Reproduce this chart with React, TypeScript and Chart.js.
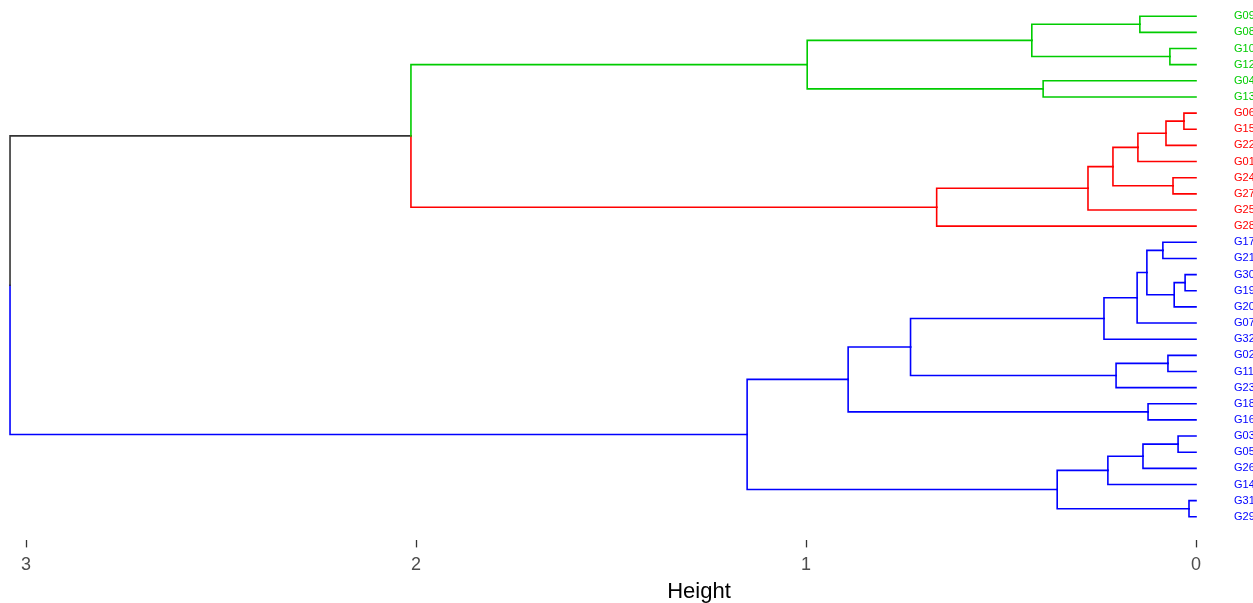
import React, { useEffect, useRef } from "react";
import { Chart, registerables } from "chart.js";

Chart.register(...registerables);

// Leaf labels in dendrogram order (top to bottom)
const leafLabels = [
  "G09", "G08", "G10", "G12", "G04", "G13",
  "G06", "G15", "G22", "G01", "G24", "G27", "G25", "G28",
  "G17", "G21", "G30", "G19", "G20", "G07", "G32", "G02", "G11", "G23",
  "G18", "G16", "G03", "G05", "G26", "G14", "G31", "G29",
];

// Cluster membership of each leaf (0 = green, 1 = red, 2 = blue)
const leafCluster = [
  0, 0, 0, 0, 0, 0,
  1, 1, 1, 1, 1, 1, 1, 1,
  2, 2, 2, 2, 2, 2, 2, 2, 2, 2, 2, 2, 2, 2, 2, 2, 2, 2,
];

const clusterColors = ["#00CC00", "#FF0000", "#0000FF"];
const mixedColor = "#333333";

// hclust-style merges: negative = leaf (1-based), positive = earlier merge (1-based)
const mergeLeft = [-31, -17, -7, -27, 2, -11, -3, -22, 3, -15, -25, 10, 4, -1, 9, 12, 8, 15, 13, 16, 18, 19, -5, 14, 21, 20, 26, 24, 27, 28, 30];
const mergeRight = [-32, -18, -8, -28, -19, -12, -4, -23, -9, -16, -26, 5, -29, -2, -10, -20, -24, 6, -30, -21, -13, 1, -6, 7, -14, 17, 11, 23, 22, 25, 29];
const mergeHeight = [0.018, 0.028, 0.031, 0.046, 0.056, 0.059, 0.067, 0.072, 0.077, 0.085, 0.123, 0.126, 0.136, 0.144, 0.149, 0.151, 0.205, 0.213, 0.226, 0.236, 0.277, 0.356, 0.392, 0.421, 0.665, 0.732, 0.892, 0.997, 1.151, 2.013, 3.041];

const xTicks = [0, 1, 2, 3];
const xTitle = "Height";

type NodeInfo = { pos: number; h: number; color: string };

function nodeInfo(id: number, cache: Map<number, NodeInfo>): NodeInfo {
  if (cache.has(id)) return cache.get(id)!;
  let info: NodeInfo;
  if (id < 0) {
    const i = -id - 1;
    info = { pos: i, h: 0, color: clusterColors[leafCluster[i]] };
  } else {
    const l = nodeInfo(mergeLeft[id - 1], cache);
    const r = nodeInfo(mergeRight[id - 1], cache);
    info = {
      pos: (l.pos + r.pos) / 2,
      h: mergeHeight[id - 1],
      color: l.color === r.color ? l.color : mixedColor,
    };
  }
  cache.set(id, info);
  return info;
}

function buildDatasets() {
  const cache = new Map<number, NodeInfo>();
  const ds: any[] = [];
  for (let m = 1; m <= mergeHeight.length; m++) {
    const p = nodeInfo(m, cache);
    for (const c of [mergeLeft[m - 1], mergeRight[m - 1]]) {
      const ci = nodeInfo(c, cache);
      ds.push({
        data: [
          { x: p.h, y: p.pos },
          { x: p.h, y: ci.pos },
          { x: ci.h, y: ci.pos },
        ],
        showLine: true,
        borderColor: ci.color,
        borderWidth: 1.6,
        pointRadius: 0,
        pointHoverRadius: 0,
        fill: false,
        tension: 0,
        borderCapStyle: "square",
        borderJoinStyle: "miter",
      });
    }
  }
  return ds;
}

const titlePlugin = {
  id: "xTitle",
  afterDraw(chart: any) {
    const ctx = chart.ctx;
    ctx.save();
    ctx.font = '22px "Liberation Sans", Arial, sans-serif';
    ctx.fillStyle = "#000000";
    ctx.textAlign = "center";
    ctx.textBaseline = "alphabetic";
    ctx.fillText(xTitle, 699, 598);
    ctx.restore();
  },
};

export default function App() {
  const ref = useRef<HTMLCanvasElement | null>(null);
  useEffect(() => {
    if (!ref.current) return;
    Chart.defaults.font.family = '"Liberation Sans", Arial, sans-serif';
    const chart = new Chart(ref.current, {
      type: "scatter",
      data: { datasets: buildDatasets() },
      options: {
        animation: false,
        responsive: true,
        maintainAspectRatio: false,
        layout: { padding: { top: 0, left: 0, right: 0, bottom: 20 } },
        plugins: { legend: { display: false }, tooltip: { enabled: false } },
        events: [],
        scales: {
          x: {
            type: "linear",
            reverse: true,
            min: -0.0897,
            max: 3.0667,
            afterBuildTicks: (s: any) => {
              s.ticks = xTicks.map((v) => ({ value: v }));
            },
            ticks: {
              color: "#4D4D4D",
              font: { size: 18 },
              padding: 7,
              autoSkip: false,
              maxRotation: 0,
              callback: (v: any) => String(v),
            },
            grid: {
              drawOnChartArea: false,
              drawTicks: true,
              tickLength: 7,
              tickColor: "#333333",
              tickWidth: 1.3,
            },
            border: { display: false },
          },
          y: {
            type: "linear",
            position: "right",
            reverse: true,
            min: -0.4076,
            max: 32.46,
            afterBuildTicks: (s: any) => {
              s.ticks = leafLabels.map((_, i) => ({ value: i }));
            },
            afterFit: (s: any) => {
              s.width = 22;
            },
            ticks: {
              autoSkip: false,
              padding: 3,
              font: { size: 11 },
              color: (c: any) => clusterColors[leafCluster[c.tick.value]],
              callback: (v: any) => leafLabels[v],
            },
            grid: { display: false, drawTicks: false },
            border: { display: false },
          },
        },
      },
      plugins: [titlePlugin],
    });
    return () => chart.destroy();
  }, []);
  return (
    <div style={{ position: "fixed", left: 0, top: 0, width: 1253, height: 603, background: "#fff" }}>
      <canvas ref={ref} />
    </div>
  );
}
